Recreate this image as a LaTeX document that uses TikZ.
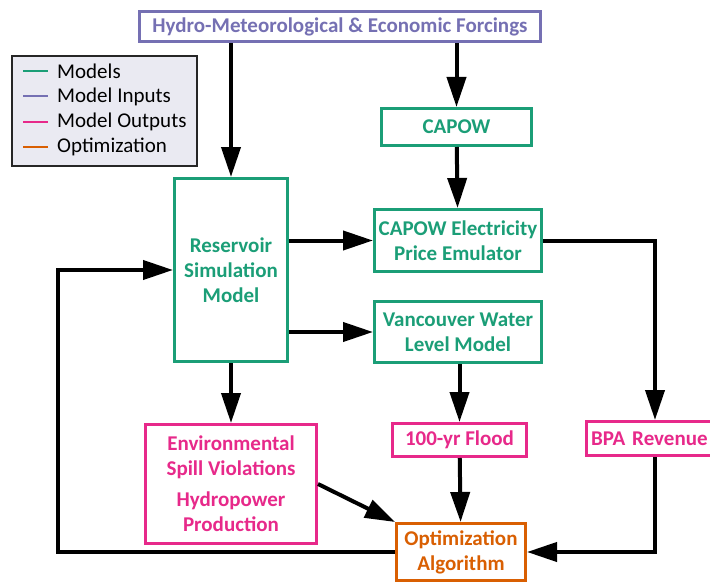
\documentclass[tikz,border=0pt]{standalone}
\usepackage{fontspec}
\setmainfont{Carlito}
\usepackage{tikz}
\usetikzlibrary{positioning,arrows.meta,calc}
\definecolor{mgreen}{HTML}{1B9E77}
\definecolor{mpurple}{HTML}{7570B3}
\definecolor{mpink}{HTML}{E7298A}
\definecolor{morange}{HTML}{D95F02}
\definecolor{legfill}{HTML}{EAEAF2}
\newcommand{\boxfont}{\fontsize{21}{25}\selectfont\bfseries}

\begin{document}
\begin{tikzpicture}[x=1pt,y=-1pt,
		blk/.style={draw,line width=3pt,fill=white,align=center,inner sep=1pt,
			font=\boxfont},
		model/.style={blk,draw=mgreen,text=mgreen},
		input/.style={blk,draw=mpurple,text=mpurple},
		output/.style={blk,draw=mpink,text=mpink},
		optim/.style={blk,draw=morange,text=morange},
		arr/.style={line width=4pt,-{Triangle[length=30pt,width=19pt]}},
		legtext/.style={anchor=west,inner sep=0pt,font=\fontsize{21}{22}\selectfont}]
	\useasboundingbox (0,0) rectangle (710,586);

	\node[input,minimum width=401,minimum height=30] (forc) at (340,26.5)
		{Hydro-Meteorological \& Economic Forcings};
	\node[model,minimum width=150,minimum height=37] (capow) at (456.5,127) {CAPOW};
	\node[model,minimum width=167,minimum height=62] (emu) at (458,240.5)
		{CAPOW Electricity\\Price Emulator};
	\node[model,minimum width=167,minimum height=61] (van) at (458,332)
		{Vancouver Water\\Level Model};
	\node[model,minimum width=113,minimum height=183] (res) at (231,270)
		{Reservoir\\Simulation\\Model};
	\node[output,minimum width=171,minimum height=119] (env) at (231,484)
		{Environmental\\Spill Violations\\[6pt]Hydropower\\Production};
	\node[output,minimum width=134,minimum height=33] (flood) at (459.5,440) {100-yr Flood};
	\node[output,anchor=west,minimum height=34,text width=140,align=left,inner xsep=5]
		(bpa) at (584.5,438.5) {BPA Revenue};
	\node[optim,minimum width=129,minimum height=57] (opt) at (461,552)
		{Optimization\\Algorithm};
	\coordinate (bpax) at (655,0);
	\coordinate (fb) at (58,552);

	\draw[arr] (forc.south -| res.north) -- (res.north);
	\draw[arr] (forc.south -| capow.north) -- (capow.north);
	\draw[arr] (capow) -- (emu);
	\draw[arr] (res.east |- emu) -- (emu.west);
	\draw[arr] (res.east |- van) -- (van.west);
	\draw[arr] (van.south -| flood) -- (flood);
	\draw[arr] (res) -- (env);
	\draw[arr] (emu.east) -| (bpax |- bpa.north);
	\draw[arr] (bpax |- bpa.south) |- (opt.east);
	\draw[arr] (flood) -- (opt);
	\draw[arr] (env.east) -- (opt.north west);
	\draw[arr] (opt.west) -- (fb) |- (res.west);

	\draw[line width=2pt,draw=black!85,fill=legfill] (12,56) rectangle (197,166);
	\draw[line width=2pt,mgreen] (23,71) -- (48,71);
	\draw[line width=2pt,mpurple] (23,96.5) -- (48,96.5);
	\draw[line width=2pt,mpink] (23,121.5) -- (48,121.5);
	\draw[line width=2pt,morange] (23,146.5) -- (48,146.5);
	\node[legtext] (lmod) at (57,71) {Models};
	\node[legtext] (linp) at (57,96.5) {Model Inputs};
	\node[legtext] (lout) at (57,121.5) {Model Outputs};
	\node[legtext] (lopt) at (57,146.5) {Optimization};
\end{tikzpicture}
\end{document}
